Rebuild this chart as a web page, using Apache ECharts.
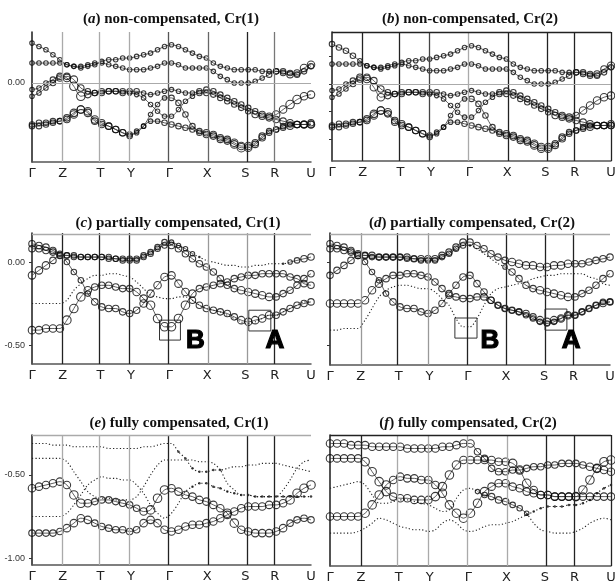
<!DOCTYPE html>
<html><head><meta charset="utf-8">
<script src="https://cdn.jsdelivr.net/npm/echarts@6/dist/echarts.min.js"></script>
<style>html,body{margin:0;padding:0;background:#fff}#c{width:615px;height:585px}</style>
</head><body><div id="c"></div>
<script>
// ---- k-path (fraction of path length) and high-symmetry labels ----
const kLabels = ['Γ','Z','T','Y','Γ','X','S','R','U'];
const kTicks = [0, 0.11, 0.245, 0.355, 0.492, 0.628, 0.765, 0.87, 1];
const kPath = [0,0.025,0.05,0.075,0.1,0.125,0.15,0.175,0.2,0.225,0.25,0.275,0.3,0.325,0.35,0.375,0.4,0.425,0.45,0.475,0.5,0.525,0.55,0.575,0.6,0.625,0.65,0.675,0.7,0.725,0.75,0.775,0.8,0.825,0.85,0.875,0.9,0.925,0.95,0.975,1];

// ---- row 1 (non-compensated) band energies, eV ----
const row1E1 = [0.24,0.22,0.20,0.17,0.14,0.11,0.10,0.09,0.10,0.11,0.13,0.14,0.14,0.15,0.15,0.16,0.17,0.18,0.20,0.22,0.23,0.22,0.20,0.18,0.16,0.15,0.12,0.10,0.09,0.08,0.08,0.08,0.08,0.07,0.07,0.07,0.06,0.05,0.06,0.09,0.11];
const row1E2 = [0.12,0.12,0.12,0.12,0.12,0.11,0.10,0.10,0.11,0.12,0.12,0.11,0.10,0.09,0.08,0.08,0.08,0.09,0.10,0.12,0.12,0.11,0.09,0.09,0.09,0.09,0.07,0.04,0.02,0.00,0.00,0.00,0.01,0.03,0.05,0.07,0.07,0.06,0.05,0.07,0.10];
const row1E3 = [-0.04,-0.03,0.00,0.02,0.04,0.03,-0.02,-0.08,-0.07,-0.06,-0.05,-0.05,-0.05,-0.05,-0.05,-0.05,-0.06,-0.07,-0.06,-0.05,-0.04,-0.05,-0.06,-0.06,-0.05,-0.04,-0.05,-0.07,-0.09,-0.11,-0.13,-0.15,-0.17,-0.19,-0.20,-0.19,-0.16,-0.13,-0.10,-0.08,-0.07];
const row1E4 = [-0.08,-0.06,-0.03,0.00,0.03,0.04,0.02,-0.03,-0.05,-0.06,-0.06,-0.05,-0.05,-0.06,-0.06,-0.07,-0.09,-0.13,-0.17,-0.20,-0.20,-0.16,-0.11,-0.08,-0.06,-0.06,-0.07,-0.09,-0.11,-0.13,-0.15,-0.17,-0.19,-0.20,-0.21,-0.22,-0.23,-0.24,-0.25,-0.25,-0.25];
const row1E5 = [-0.25,-0.24,-0.24,-0.23,-0.23,-0.21,-0.18,-0.16,-0.17,-0.22,-0.24,-0.26,-0.28,-0.30,-0.31,-0.30,-0.26,-0.19,-0.13,-0.09,-0.09,-0.12,-0.19,-0.26,-0.29,-0.30,-0.31,-0.33,-0.34,-0.36,-0.38,-0.38,-0.36,-0.32,-0.29,-0.28,-0.26,-0.25,-0.25,-0.25,-0.25];
const row1E6 = [-0.26,-0.26,-0.25,-0.24,-0.23,-0.22,-0.19,-0.16,-0.18,-0.23,-0.25,-0.26,-0.28,-0.30,-0.32,-0.29,-0.26,-0.23,-0.23,-0.24,-0.25,-0.26,-0.27,-0.28,-0.30,-0.31,-0.32,-0.34,-0.35,-0.37,-0.39,-0.39,-0.37,-0.33,-0.30,-0.28,-0.27,-0.26,-0.25,-0.25,-0.24];

// ---- row 1 weights (0-9) for Cr(1) and Cr(2) ----
const aW1 = [3,3,3,3,3,3,3,3,3,3,3,3,3,3,3,3,3,3,3,3,3,3,3,3,3,3,3,3,3,3,3,3,3,3,3,4,4,5,5,6,6];
const aW2 = [3,3,3,3,3,3,3,3,3,3,3,3,3,3,3,3,3,3,3,3,3,3,3,3,3,3,3,3,3,3,3,3,3,3,4,4,4,4,4,4,4];
const aW3 = [3,3,3,4,5,6,7,7,5,4,4,4,4,4,4,4,3,3,3,3,3,3,3,3,4,4,4,4,4,4,4,4,4,5,5,6,6,7,7,6,6];
const aW4 = [3,3,3,4,5,5,6,5,4,4,4,4,4,4,3,3,3,3,3,3,3,3,3,3,4,4,4,4,4,4,4,4,5,5,5,5,5,5,5,6,6];
const aW5 = [4,4,4,4,4,5,6,6,6,6,5,5,5,5,4,3,3,3,3,3,4,4,4,4,4,5,5,5,5,6,6,6,5,5,4,4,4,4,5,5,5];
const aW6 = [4,4,4,4,4,5,6,6,6,5,5,5,5,5,4,3,3,3,3,4,4,4,4,4,4,5,5,5,5,6,7,6,5,5,4,4,4,5,5,5,5];
const bW1 = [4,4,4,4,3,3,3,3,3,3,3,3,3,3,3,3,3,3,3,3,3,3,3,3,3,3,3,3,3,3,3,3,3,3,3,4,4,4,5,5,6];
const bW2 = [3,3,3,3,3,3,3,3,3,3,3,3,3,3,3,3,3,3,3,3,3,3,3,3,3,3,3,3,3,3,3,3,3,3,4,4,4,4,4,4,4];
const bW3 = [3,3,3,4,5,6,6,6,5,4,4,4,4,4,4,4,3,3,3,3,3,3,3,3,4,4,4,4,4,4,4,4,4,5,5,5,6,6,6,6,6];
const bW4 = [3,3,3,4,5,5,5,5,4,4,4,4,4,4,3,3,3,3,3,3,3,3,3,3,4,4,4,4,4,4,4,4,5,5,5,5,5,5,5,5,5];
const bW5 = [4,4,4,4,4,5,6,6,6,5,5,5,5,5,4,3,3,3,3,3,4,4,4,4,4,5,5,5,5,6,6,6,5,5,4,4,4,4,5,5,5];
const bW6 = [4,4,4,4,4,5,6,6,5,5,5,5,5,5,4,3,3,3,3,4,4,4,4,4,4,5,5,5,5,6,6,6,5,5,4,4,4,5,5,5,5];

// ---- row 2 (partially compensated) band energies, eV ----
const row2E1 = [0.11,0.10,0.09,0.07,0.05,0.04,0.04,0.03,0.03,0.03,0.03,0.03,0.02,0.02,0.02,0.02,0.04,0.06,0.09,0.12,0.12,0.10,0.08,0.05,0.03,0.01,0.00,-0.01,-0.02,-0.02,-0.03,-0.03,-0.02,-0.02,-0.01,-0.01,-0.01,0.00,0.01,0.02,0.03];
const row2E2 = [0.08,0.08,0.07,0.06,0.04,0.04,0.03,0.03,0.03,0.03,0.03,0.02,0.02,0.01,0.01,0.01,0.03,0.05,0.08,0.10,0.10,0.08,0.05,0.02,-0.01,-0.03,-0.06,-0.10,-0.14,-0.16,-0.17,-0.18,-0.19,-0.20,-0.21,-0.21,-0.19,-0.17,-0.14,-0.10,-0.07];
const row2E3 = [-0.08,-0.05,-0.02,0.01,0.04,0.00,-0.06,-0.11,-0.19,-0.24,-0.27,-0.28,-0.28,-0.30,-0.31,-0.29,-0.25,-0.19,-0.14,-0.09,-0.08,-0.13,-0.18,-0.23,-0.26,-0.28,-0.29,-0.30,-0.31,-0.33,-0.35,-0.36,-0.35,-0.34,-0.32,-0.32,-0.30,-0.28,-0.26,-0.25,-0.24];
const row2E4 = [-0.41,-0.41,-0.40,-0.40,-0.40,-0.35,-0.28,-0.21,-0.17,-0.15,-0.14,-0.14,-0.15,-0.16,-0.16,-0.18,-0.22,-0.26,-0.34,-0.39,-0.39,-0.34,-0.26,-0.19,-0.16,-0.15,-0.14,-0.13,-0.12,-0.10,-0.09,-0.08,-0.08,-0.07,-0.07,-0.07,-0.07,-0.09,-0.10,-0.13,-0.14];
const row2E5 = [-0.25,-0.25,-0.25,-0.25,-0.25,-0.23,-0.17,-0.13,-0.10,-0.08,-0.08,-0.07,-0.07,-0.08,-0.09,-0.12,-0.16,-0.20,-0.21,-0.22,-0.22,-0.21,-0.21,-0.23,-0.26,-0.28,-0.29,-0.30,-0.32,-0.34,-0.36,-0.37,-0.36,-0.34,-0.32,-0.32,-0.30,-0.28,-0.26,-0.24,-0.24];

const cW1 = [5,5,5,5,4,4,4,4,4,4,4,4,4,4,4,4,4,4,4,4,3,3,3,3,2,1,1,1,1,1,1,1,1,1,1,1,2,3,4,5,5];
const cW2 = [5,5,5,5,4,4,4,4,4,4,4,4,4,4,4,4,4,4,4,4,5,5,5,5,5,5,5,5,5,5,6,6,6,6,6,5,5,5,5,5,5];
const cW3 = [6,6,6,5,5,4,4,4,4,5,5,5,5,5,5,5,6,6,6,6,6,6,6,5,5,5,5,5,5,5,6,6,6,6,6,5,5,5,5,5,5];
const cW4 = [6,6,6,6,6,7,7,7,6,5,5,5,5,5,5,6,6,7,7,7,7,7,7,6,5,5,5,5,5,5,5,5,5,5,5,5,5,5,5,5,5];
const cW5 = [1,1,1,1,1,1,1,1,1,1,1,1,1,1,1,1,1,1,1,1,1,1,1,1,1,1,1,1,1,1,1,1,1,1,1,1,1,1,1,1,1];
const dW1 = [5,5,5,5,5,5,5,5,5,5,5,5,5,5,5,5,5,5,5,5,5,5,5,5,5,5,6,6,6,6,6,6,6,6,6,5,5,5,5,5,5];
const dW2 = [5,5,5,5,5,4,4,4,4,4,4,4,4,4,4,4,4,4,4,4,2,1,1,1,1,3,5,5,5,5,6,6,6,6,6,5,5,5,5,5,5];
const dW3 = [5,5,5,5,5,4,4,4,4,5,5,5,5,5,5,5,5,5,5,5,5,5,5,5,5,5,5,5,5,5,6,6,6,6,6,5,5,5,5,5,5];
const dW4 = [1,1,1,1,1,1,1,1,1,1,1,1,1,1,1,1,1,1,1,1,1,1,1,1,1,1,1,1,1,1,1,1,1,1,1,1,1,1,1,1,1];
const dW5 = [6,6,6,6,6,6,6,6,5,5,5,5,5,5,5,5,5,5,5,5,5,5,5,5,4,4,4,4,4,4,4,4,4,4,4,4,4,4,4,4,4];

// ---- row 3 (fully compensated) band energies, eV ----
const row3E1 = [-0.31,-0.31,-0.31,-0.32,-0.32,-0.32,-0.33,-0.33,-0.33,-0.33,-0.33,-0.34,-0.34,-0.34,-0.34,-0.34,-0.33,-0.33,-0.32,-0.31,-0.31,-0.36,-0.40,-0.46,-0.48,-0.48,-0.47,-0.47,-0.46,-0.45,-0.45,-0.44,-0.44,-0.43,-0.43,-0.43,-0.44,-0.45,-0.46,-0.47,-0.48];
const row3E2 = [-0.40,-0.40,-0.40,-0.40,-0.40,-0.42,-0.48,-0.54,-0.60,-0.63,-0.64,-0.64,-0.65,-0.65,-0.65,-0.63,-0.57,-0.50,-0.44,-0.41,-0.41,-0.41,-0.41,-0.41,-0.42,-0.42,-0.43,-0.47,-0.55,-0.59,-0.62,-0.62,-0.63,-0.63,-0.63,-0.63,-0.59,-0.53,-0.46,-0.42,-0.41];
const row3E3 = [-0.58,-0.57,-0.56,-0.55,-0.54,-0.56,-0.62,-0.67,-0.67,-0.66,-0.65,-0.65,-0.66,-0.67,-0.68,-0.70,-0.72,-0.71,-0.64,-0.59,-0.58,-0.60,-0.62,-0.63,-0.65,-0.66,-0.68,-0.70,-0.73,-0.79,-0.83,-0.84,-0.85,-0.85,-0.85,-0.84,-0.82,-0.79,-0.77,-0.76,-0.77];
const row3E4 = [-0.75,-0.75,-0.75,-0.75,-0.75,-0.73,-0.68,-0.62,-0.56,-0.53,-0.51,-0.52,-0.52,-0.53,-0.53,-0.56,-0.61,-0.68,-0.73,-0.76,-0.73,-0.67,-0.60,-0.57,-0.55,-0.55,-0.57,-0.58,-0.60,-0.61,-0.62,-0.62,-0.63,-0.63,-0.63,-0.63,-0.63,-0.63,-0.63,-0.63,-0.63];
const row3E5 = [-0.85,-0.85,-0.85,-0.85,-0.84,-0.82,-0.79,-0.76,-0.77,-0.79,-0.81,-0.82,-0.83,-0.83,-0.84,-0.83,-0.79,-0.77,-0.79,-0.83,-0.84,-0.83,-0.81,-0.80,-0.80,-0.79,-0.78,-0.76,-0.74,-0.72,-0.70,-0.69,-0.69,-0.69,-0.68,-0.68,-0.67,-0.65,-0.61,-0.58,-0.56];

const eW1 = [1,1,1,1,1,1,1,1,1,1,1,1,1,1,1,1,1,1,1,1,1,2,2,2,2,2,2,2,1,1,1,1,1,1,1,1,1,1,1,1,1];
const eW2 = [1,1,1,1,1,1,1,1,1,1,1,1,1,1,1,1,1,1,1,1,1,1,1,1,1,1,1,1,1,1,1,1,1,1,1,1,1,1,1,1,1];
const eW3 = [6,6,6,6,6,6,7,7,6,5,5,5,5,5,5,5,6,7,7,7,6,6,6,6,6,6,6,6,7,7,6,6,6,6,6,6,6,5,5,5,5];
const eW4 = [1,1,1,1,1,1,1,1,1,1,1,1,1,1,1,1,1,1,1,1,1,1,1,2,2,2,2,2,2,2,2,2,2,2,2,2,2,2,2,2,2];
const eW5 = [5,5,5,5,5,6,6,6,6,5,5,5,5,5,5,5,6,6,6,6,6,6,6,6,6,6,6,6,6,6,6,6,6,6,6,6,6,7,7,7,7];
const fW1 = [6,6,6,6,6,6,6,6,6,6,6,6,6,6,6,6,6,6,6,6,6,5,5,5,5,5,5,5,5,5,5,5,5,5,5,5,5,6,6,6,6];
const fW2 = [6,6,6,6,6,7,7,7,7,6,6,6,6,6,6,7,7,7,7,6,6,6,6,6,6,6,7,7,7,6,6,6,6,6,6,7,7,7,7,7,7];
const fW3 = [1,1,1,1,1,1,1,1,1,1,1,1,1,1,1,1,1,1,1,1,1,3,4,5,5,5,4,4,3,1,1,1,1,1,1,1,1,1,1,1,1];
const fW4 = [6,6,6,6,6,7,7,7,7,6,6,6,6,6,6,6,7,7,7,7,7,7,7,6,6,6,6,6,6,6,6,6,6,6,6,6,6,6,6,6,6];
const fW5 = [1,1,1,1,1,1,1,1,1,1,1,1,1,1,1,1,1,1,1,1,1,1,1,1,1,1,1,1,2,2,2,2,2,2,2,2,2,2,2,2,2];

// ---- panel layout / styling ----
const panels = [
  {tag:'a', name:'non-compensated, Cr(1)', box:[32,32,279,130], yr:[-0.476,0.307], tc:[171,19],
   bands:[[row1E1,aW1],[row1E2,aW2],[row1E3,aW3],[row1E4,aW4],[row1E5,aW5],[row1E6,aW6]],
   vlines:['#aaa','#aaa','#aaa','#555','#666','#222','#777',null], top:'#aaa', zero:'#aaa', labels:[0], ticks:[]},
  {tag:'b', name:'non-compensated, Cr(2)', box:[332,32,279,129], yr:[-0.464,0.313], tc:[470,19],
   bands:[[row1E1,bW1],[row1E2,bW2],[row1E3,bW3],[row1E4,bW4],[row1E5,bW5],[row1E6,bW6]],
   vlines:['#222','#222','#444','#aaa','#222','#222','#222','#222'], top:'#222', zero:'#aaa', labels:[], ticks:[0.165,0,-0.165,-0.33]},
  {tag:'c', name:'partially compensated, Cr(1)', box:[32,233,279,131], yr:[-0.614,0.175], tc:[178,223],
   bands:[[row2E5,cW5],[row2E1,cW1],[row2E2,cW2],[row2E3,cW3],[row2E4,cW4]],
   vlines:['#222','#222','#222','#222','#999','#999','#222',null], top:'#aaa', zero:null, labels:[0,-0.5], ticks:[0,-0.5],
   boxes:[[[0.457,-0.35],[0.532,-0.47]],[[0.777,-0.29],[0.856,-0.415]]], letters:[['B',0.586,-0.476],['A',0.871,-0.476]]},
  {tag:'d', name:'partially compensated, Cr(2)', box:[330,233,280,132], yr:[-0.62,0.175], tc:[472,223],
   bands:[[row2E4,dW4],[row2E1,dW1],[row2E2,dW2],[row2E3,dW3],[row2E5,dW5]],
   vlines:['#999','#222','#999','#222','#222','#222','#222',null], top:'#aaa', zero:null, labels:[], ticks:[0,-0.5],
   boxes:[[[0.446,-0.337],[0.525,-0.458]],[[0.768,-0.283],[0.846,-0.41]]], letters:[['B',0.571,-0.476],['A',0.861,-0.476]]},
  {tag:'e', name:'fully compensated, Cr(1)', box:[32,435,279,130], yr:[-1.042,-0.259], tc:[179,423],
   bands:[[row3E1,eW1],[row3E2,eW2],[row3E4,eW4],[row3E3,eW3],[row3E5,eW5]],
   vlines:['#aaa','#aaa','#aaa','#222','#222','#222','#222',null], top:'#aaa', zero:null, labels:[-0.5,-1.0], ticks:[-0.5,-1.0]},
  {tag:'f', name:'fully compensated, Cr(2)', box:[330,435,281,131], yr:[-1.048,-0.259], tc:[468,423],
   bands:[[row3E3,fW3],[row3E5,fW5],[row3E1,fW1],[row3E2,fW2],[row3E4,fW4]],
   vlines:['#222','#aaa','#aaa','#aaa','#aaa','#222','#222','#222'], top:'#222', zero:null, labels:[], ticks:[]}
];

const size = w => w === 1 ? 1.6 : (w === 2 ? 2.5 : 1.5 + 1.0 * w);
function circles(E, W) {
  const out = [];
  kPath.forEach((k, i) => {
    const w = W[i];
    if (w <= 2) {
      if (w === 2) out.push({value:[k, E[i], w], symbolSize:size(w), itemStyle:{color:'#111', borderWidth:0}});
      return;
    }
    out.push({value:[k, E[i], w], symbolSize:size(w),
      itemStyle:{color:'rgba(255,255,255,0)', borderColor:'#0a0a0a', borderWidth:1.1}});
  });
  return out;
}
// dotted trace where the weight is tiny; thin trace joining the circles elsewhere
function dottedTrace(E, W) {
  return kPath.map((k, i) => {
    const near = W[i] <= 2 || (i > 0 && W[i-1] <= 2) || (i < W.length - 1 && W[i+1] <= 2);
    return [k, near ? E[i] : '-'];
  });
}
function solidTrace(E, W) {
  return kPath.map((k, i) => [k, W[i] >= 3 ? E[i] : '-']);
}
function kName(v) {
  let b = 0;
  for (let j = 1; j < kTicks.length; j++) if (Math.abs(kTicks[j]-v) < Math.abs(kTicks[b]-v)) b = j;
  return kLabels[b];
}

const grids = [], xAxes = [], yAxes = [], series = [], graphics = [];
panels.forEach((p, pi) => {
  grids.push({left:p.box[0], top:p.box[1], width:p.box[2], height:p.box[3], containLabel:false, outerBoundsMode:'none'});
  xAxes.push({type:'value', gridIndex:pi, min:0, max:1,
    axisLine:{show:true, onZero:false, lineStyle:{color:'#555', width:1.5}},
    axisTick:{show:false}, splitLine:{show:false},
    axisLabel:{show:true, customValues:kTicks, formatter:kName, fontFamily:'DejaVu Sans', fontSize:13, color:'#222', margin:5, hideOverlap:false, showMinLabel:true, showMaxLabel:true}});
  yAxes.push({type:'value', gridIndex:pi, min:p.yr[0], max:p.yr[1],
    axisLine:{show:true, onZero:false, lineStyle:{color:'#1a1a1a', width:1.5}},
    axisTick:{show:p.ticks.length > 0, customValues:p.ticks, length:3, lineStyle:{color:'#333', width:1}},
    splitLine:{show:false},
    axisLabel:{show:p.labels.length > 0, customValues:p.labels, formatter:v => v.toFixed(2), fontFamily:'Liberation Sans', fontSize:9, color:'#333', margin:7}});

  const lines = [];
  p.vlines.forEach((c, j) => { if (c) lines.push({xAxis:kTicks[j+1], lineStyle:{color:c, width:1.3, type:'solid'}}); });
  lines.push({yAxis:p.yr[1], lineStyle:{color:p.top, width:1.3, type:'solid'}});
  if (p.zero) lines.push({yAxis:0, lineStyle:{color:p.zero, width:1, type:'solid'}});

  p.bands.forEach((bd, bi) => {
    const E = bd[0], W = bd[1];
    const dot = {type:'line', xAxisIndex:pi, yAxisIndex:pi, data:dottedTrace(E, W), showSymbol:false, symbol:'none',
      smooth:0.3, connectNulls:false, silent:true, animation:false, z:2,
      lineStyle:{color:'#222', width:1.1, type:[1.2, 2.2]}};
    const thin = {type:'line', xAxisIndex:pi, yAxisIndex:pi, data:solidTrace(E, W), showSymbol:false, symbol:'none',
      smooth:0.3, connectNulls:false, silent:true, animation:false, z:2,
      lineStyle:{color:'#333', width:0.8}};
    const s = {type:'scatter', xAxisIndex:pi, yAxisIndex:pi, symbol:'circle', data:circles(E, W), silent:true, animation:false, z:3};
    if (bi === 0) {
      dot.markLine = {silent:true, symbol:['none','none'], label:{show:false}, animation:false, data:lines};
      if (p.boxes) {
        dot.markArea = {silent:true, animation:false, itemStyle:{color:'rgba(0,0,0,0)', borderColor:'#333', borderWidth:1},
          data:p.boxes.map(b => [{coord:b[0]}, {coord:b[1]}])};
        dot.markPoint = {silent:true, animation:false, symbol:'circle', symbolSize:1, itemStyle:{color:'rgba(0,0,0,0)'},
          label:{show:true, position:'inside', fontFamily:'Liberation Sans', fontWeight:'bold', fontSize:26, color:'#000', textBorderColor:'#000', textBorderWidth:1.2,
                 formatter: prm => prm.name},
          data:p.letters.map(l => ({name:l[0], coord:[l[1], l[2]]}))};
      }
    }
    series.push(dot, thin, s);
  });

  graphics.push({type:'text', x:p.tc[0], y:p.tc[1], silent:true,
    style:{text:'{n|(}{i|' + p.tag + '}{n|) ' + p.name + '}', align:'center', verticalAlign:'middle',
      rich:{n:{fontFamily:'Liberation Serif', fontWeight:'bold', fontSize:15, fill:'#111'},
            i:{fontFamily:'Liberation Serif', fontWeight:'bold', fontStyle:'italic', fontSize:15, fill:'#111'}}}});
});

const chart = echarts.init(document.getElementById('c'), null, {renderer:'canvas'});
chart.setOption({
  animation:false, backgroundColor:'#fff',
  textStyle:{fontFamily:'Liberation Sans'},
  grid:grids, xAxis:xAxes, yAxis:yAxes, series:series, graphic:graphics
});
</script>
</body></html>
